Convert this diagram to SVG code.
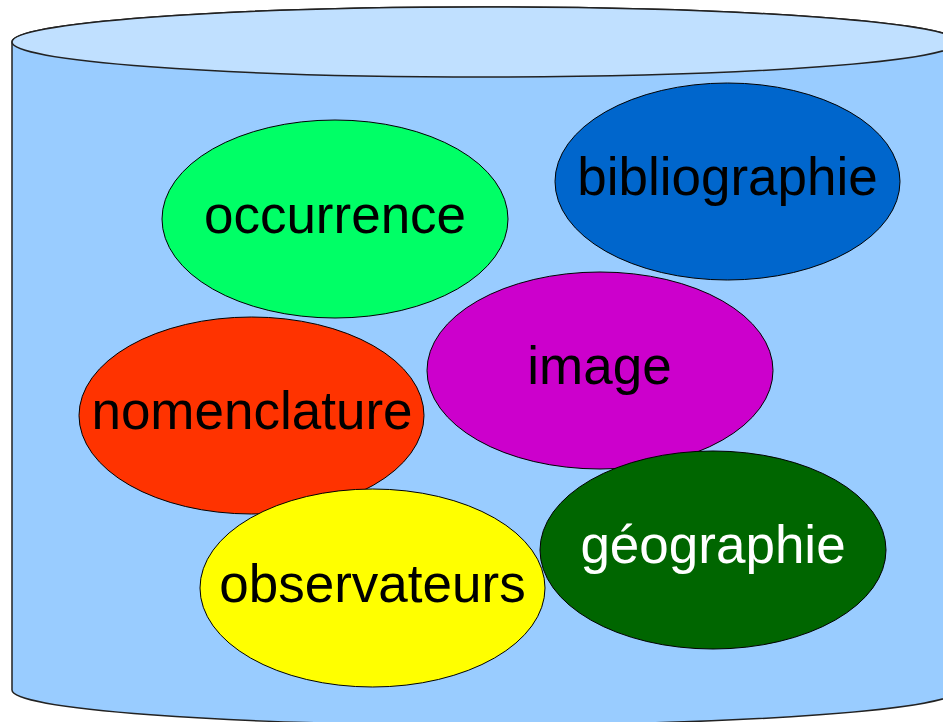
<svg xmlns="http://www.w3.org/2000/svg" width="943" height="722" viewBox="0 0 943 722">
<style>
.cyl{stroke:#222;stroke-width:1.5}
.node ellipse{stroke:#000;stroke-width:1}
.node text{font-family:"Liberation Sans",Arial,sans-serif;font-size:53px;text-anchor:middle}
</style>
<rect width="943" height="722" fill="#fff"/>
<g id="database">
<path class="cyl" fill="#99ccff" d="M12,42 A473,35 0 0 1 958,42 L958,690 A473,35 0 0 1 12,690 Z"/>
<ellipse class="cyl" cx="485" cy="42" rx="473" ry="35" fill="#c0e0ff"/>
</g>
<g id="connectors"></g>
<g id="occurrence" class="node">
<ellipse cx="335" cy="219" rx="173" ry="99" fill="#00ff66"/>
<text x="335" y="233" fill="#000">occurrence</text>
</g>
<g id="bibliographie" class="node">
<ellipse cx="727.5" cy="181.5" rx="172.5" ry="98.5" fill="#0066cc"/>
<text x="727.5" y="195" fill="#000">bibliographie</text>
</g>
<g id="image" class="node">
<ellipse cx="600" cy="370.5" rx="173" ry="98.5" fill="#cc00cc"/>
<text x="599.5" y="384" fill="#000">image</text>
</g>
<g id="nomenclature" class="node">
<ellipse cx="251.5" cy="415.5" rx="172.5" ry="98.5" fill="#ff3300"/>
<text x="252" y="429" fill="#000">nomenclature</text>
</g>
<g id="geographie" class="node">
<ellipse cx="713" cy="550" rx="173" ry="99" fill="#006600"/>
<text x="713" y="563" fill="#fff">géographie</text>
</g>
<g id="observateurs" class="node">
<ellipse cx="372.5" cy="588" rx="172.5" ry="99" fill="#ffff00"/>
<text x="372.5" y="602" fill="#000">observateurs</text>
</g>
</svg>
